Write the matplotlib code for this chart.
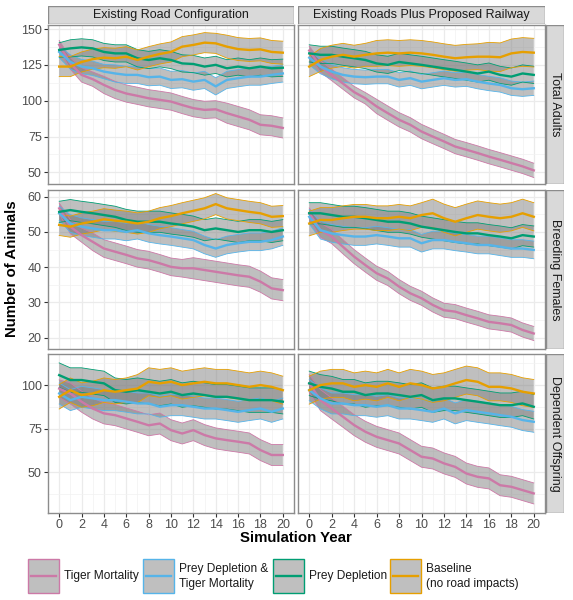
import matplotlib.pyplot as plt
from matplotlib.patches import Rectangle
from matplotlib.lines import Line2D

plt.rcParams['font.family'] = ['Liberation Sans', 'DejaVu Sans']

years = list(range(0, 21))

scenarios = ["Tiger Mortality", "Prey Depletion &\nTiger Mortality",
             "Prey Depletion", "Baseline\n(no road impacts)"]
colors = ["#CC79A7", "#56B4E9", "#009E73", "#E69F00"]
col_titles = ["Existing Road Configuration", "Existing Roads Plus Proposed Railway"]
row_titles = ["Total Adults", "Breeding Females", "Dependent Offspring"]

# ---- Total adults, existing roads
adults_road_tiger = [139, 126, 118, 115, 111, 107.5, 105, 103.4, 101.7, 100.6, 99.4,
                     97, 94.8, 93.6, 94, 91.3, 89, 86.7, 83.2, 82.5, 81]
adults_road_both = [134, 127, 123.8, 122.6, 120.3, 119, 118, 118, 116.4, 116.8, 114.5,
                    115, 113.3, 114.5, 110, 114.5, 115.7, 116.8, 116.8, 118, 119]
adults_road_prey = [135.4, 136.5, 137.2, 136.5, 134, 133, 133, 129.6, 128.4, 129.6, 128.4,
                    126, 125.6, 123.8, 125, 122.6, 123.8, 122.6, 123.8, 122.6, 123]
adults_road_base = [123.8, 123.8, 127, 129, 130, 129.6, 130.7, 128.4, 130.7, 132.6, 134,
                    137.7, 138.9, 140.5, 140, 137.7, 136, 135.4, 135.8, 134, 133.5]
adults_road_tiger_sd = [3, 4, 5, 5, 6, 6, 6, 6, 6, 6, 6, 6, 6, 6, 6, 7, 7, 7, 7, 7, 7]
adults_road_both_sd = [4, 5, 5, 5, 5, 6, 6, 6, 6, 6, 6, 6, 6, 6, 6, 6, 6, 6, 6, 6, 6]
adults_road_prey_sd = [5, 6, 6, 6, 6, 6, 6, 6, 6, 6, 6, 6, 6, 6, 6, 6, 6, 6, 6, 6, 6]
adults_road_base_sd = [7, 7, 7, 7, 7, 7, 7, 7, 7, 7, 7, 7, 7, 7, 7, 8, 8, 8, 8, 8, 8]

# ---- Total adults, roads + railway
adults_rail_tiger = [135, 123.8, 118, 112, 106, 101.7, 96, 91.3, 86.7, 83.2, 78.5,
                     75, 71.6, 68, 65.8, 63.5, 61, 58.8, 56.5, 54.2, 51.4]
adults_rail_both = [130, 123.8, 120.3, 118, 116.8, 116.4, 116.8, 116.8, 114.5, 115.7, 113.3,
                    114.5, 115.7, 114.5, 115, 113.3, 112, 111, 108.7, 108, 108.7]
adults_rail_prey = [133, 132, 132, 130.7, 129.6, 128.4, 126, 125, 127, 126, 125,
                    123.8, 122.6, 121.5, 120.3, 119, 120.3, 118, 116.8, 119, 118]
adults_rail_base = [123.8, 128.4, 130.7, 132, 130.7, 132, 133, 133.5, 133, 133.5, 133,
                    132, 130.7, 129.6, 130.3, 130.7, 130.7, 130.3, 133, 134, 133.5]
adults_rail_tiger_sd = [3, 4, 4, 4, 4, 4, 5, 5, 5, 5, 5, 5, 5, 5, 5, 5, 5, 5, 5, 5, 5]
adults_rail_both_sd = [5, 5, 5, 5, 5, 5, 5, 5, 5, 5, 5, 5, 5, 5, 5, 5, 5, 5, 5, 5, 5]
adults_rail_prey_sd = [6, 6, 6, 6, 6, 6, 6, 6, 6, 6, 6, 6, 6, 6, 6, 6, 6, 6, 6, 6, 6]
adults_rail_base_sd = [7, 8, 8, 8, 8, 8, 9, 9, 9, 9, 9, 9, 9, 9, 9, 9, 10, 10, 10, 10, 10]

# ---- Breeding females, existing roads
females_road_tiger = [56.7, 51.5, 49.1, 47.2, 45.3, 44.4, 43.5, 42.5, 42, 41.1, 40.1,
                      39.7, 39.7, 39.2, 38.7, 38.2, 37.7, 37.3, 35.9, 34, 33.5]
females_road_both = [55.3, 52.4, 51.5, 51, 50.5, 50.5, 50, 50.5, 49.6, 49.1, 48.7,
                     48.2, 47.7, 46.3, 45.3, 46.3, 46.8, 47.2, 47.2, 47.7, 48.7]
females_road_prey = [55.7, 56.2, 55.7, 55.3, 54.8, 54.3, 53.4, 52.9, 52.9, 52.9, 52.4,
                     52, 51.5, 50.5, 51, 50.5, 50, 50.5, 50.5, 50, 50.5]
females_road_base = [52, 51.5, 52.4, 52.9, 53.6, 53.2, 52.9, 52.4, 52.9, 53.9, 54.5,
                     55.3, 56, 56.7, 57.9, 56.7, 56.2, 55.7, 55.3, 54.3, 54.5]
females_road_tiger_sd = [1.5, 2, 2, 2.5, 2.5, 2.5, 2.5, 2.5, 2.5, 2.5, 2.5,
                         2.5, 3, 3, 3, 3, 3, 3, 3, 3, 3]
females_road_both_sd = [2, 2.5, 2.5, 2.5, 2.5, 2.5, 2.5, 2.5, 2.5, 2.5, 2.5,
                        2.5, 2.5, 2.5, 2.5, 2.5, 2.5, 2.5, 2.5, 2.5, 2.5]
females_road_prey_sd = [3, 3, 3, 3, 3, 3, 3, 3, 3, 3, 3, 3, 3, 3, 3, 3, 3, 3, 3, 3, 3]
females_road_base_sd = [3, 3, 3, 3, 3, 3, 3, 3, 3, 3, 3, 3, 3, 3, 3, 3, 3, 3, 3, 3, 3]

# ---- Breeding females, roads + railway
females_rail_tiger = [55.3, 50.5, 48.7, 45.8, 43, 40.6, 38.3, 36.8, 34.5, 32.6, 31.2,
                      29.3, 27.8, 27.4, 26.4, 25.5, 24.5, 24.1, 23.6, 22.2, 21.2]
females_rail_both = [54.3, 50.5, 49.6, 49.1, 48.7, 48.7, 49.1, 48.7, 48.2, 48.2, 46.8,
                     47.7, 47.7, 47.2, 46.8, 46.3, 46.3, 45.8, 45.3, 45.3, 44.9]
females_rail_prey = [55.3, 55.3, 54.8, 54.3, 54.3, 53.9, 53.4, 52.9, 52.9, 52.4, 51.5,
                     51, 50.5, 50, 49.6, 49.6, 49.1, 48.7, 48.2, 49.1, 48.7]
females_rail_base = [52.4, 53.4, 53.4, 53.9, 54.3, 54.3, 53.9, 53.9, 54.3, 53.9, 54.8,
                     55.3, 53.9, 52.9, 53.9, 54.8, 54.3, 53.9, 54.3, 55.3, 54.3]
females_rail_tiger_sd = [1.5, 2, 2, 2, 2, 2, 2, 2, 2, 2, 2, 2, 2, 2, 2, 2, 2, 2, 2, 2, 2]
females_rail_both_sd = [2, 2.5, 2.5, 2.5, 2.5, 2.5, 2.5, 2.5, 2.5, 2.5, 2.5,
                        2.5, 2.5, 2.5, 2.5, 2.5, 2.5, 2.5, 2.5, 2.5, 2.5]
females_rail_prey_sd = [3, 3, 3, 3, 3, 3, 3, 3, 3, 3, 3, 3, 3, 3, 3, 3, 3, 3, 3, 3, 3]
females_rail_base_sd = [3.5, 3.5, 3.5, 3.5, 3.5, 3.5, 3.5, 3.5, 3.5, 3.5, 3.5,
                        4, 4, 4, 4, 4, 4, 4, 4, 4, 4]

# ---- Dependent offspring, existing roads
young_road_tiger = [98, 95.2, 90.5, 86.6, 83.8, 82.8, 80.9, 79, 77, 78, 74.2,
                    72.3, 74.2, 71.4, 69.5, 68.5, 67.6, 66.6, 62.8, 60, 60]
young_road_both = [95.2, 91.4, 93.3, 92.4, 91.4, 91.4, 90.5, 89.5, 89.5, 87.6, 88.5,
                   88.5, 87.6, 86.6, 86.6, 85.7, 84.7, 85.7, 86.6, 84.7, 86.6]
young_road_prey = [105.7, 102.9, 102.9, 101.9, 101, 97.1, 96.2, 97.1, 96.2, 95.2, 96.2,
                   94.3, 95.2, 94.3, 93.3, 93.3, 92.4, 91.4, 91.4, 91.4, 90.5]
young_road_base = [93.3, 97.1, 94.3, 95.2, 97.1, 96.2, 97.1, 98, 101.9, 101, 101.9,
                   100, 101, 101.9, 101, 101, 100, 99, 100, 99, 97.1]
young_road_tiger_sd = [5, 6, 6, 6, 6, 6, 6, 6, 6, 6, 6, 6, 6, 6, 6, 6, 6, 6, 6, 6, 6]
young_road_both_sd = [6, 6, 6, 6, 6, 6, 6, 6, 6, 6, 6, 6, 6, 6, 6, 6, 6, 6, 6, 6, 6]
young_road_prey_sd = [7, 7, 7, 7, 7, 7, 7, 7, 7, 7, 7, 7, 7, 7, 7, 7, 7, 7, 7, 7, 7]
young_road_base_sd = [7, 7, 7, 7, 7, 7, 7, 8, 8, 8, 8, 8, 8, 8, 8, 8, 8, 8, 8, 8, 8]

# ---- Dependent offspring, roads + railway
young_rail_tiger = [101, 91.4, 86.6, 81.9, 77.1, 73.3, 70.4, 68.5, 66.6, 62.8, 59,
                    58, 55.2, 53.2, 49.4, 47.5, 46.6, 42.7, 41.8, 39.9, 38]
young_rail_both = [97.1, 92.4, 89.5, 89.5, 88.5, 88.5, 87.6, 88.5, 86.6, 86.6, 85.7,
                   84.7, 86.6, 83.8, 85.7, 84.7, 83.8, 82.8, 81.9, 80, 79]
young_rail_prey = [101, 99, 98, 96.2, 96.2, 94.3, 95.2, 95.2, 94.3, 93.3, 94.3,
                   91.4, 92.4, 92.4, 91.4, 90.5, 89.5, 88.5, 88.5, 89.5, 87.6]
young_rail_base = [97.1, 100, 101, 101, 99, 100, 99, 101, 99, 101, 100,
                   98.1, 99, 101, 102.9, 101.9, 99, 99, 98.1, 96.2, 95.2]
young_rail_tiger_sd = [5, 6, 6, 6, 6, 6, 6, 6, 6, 6, 6, 6, 6, 6, 6, 6, 6, 6, 6, 6, 6]
young_rail_both_sd = [6, 6, 6, 6, 6, 6, 6, 6, 6, 6, 6, 6, 6, 6, 6, 6, 6, 6, 6, 6, 6]
young_rail_prey_sd = [7, 7, 7, 7, 7, 7, 7, 7, 7, 7, 7, 7, 7, 7, 7, 7, 7, 7, 7, 7, 7]
young_rail_base_sd = [8, 8, 8, 8, 8, 8, 8, 8, 8, 8, 8, 8, 8, 8, 8, 8, 8, 8, 8, 8, 8]

panels = {
    (0, 0): [(adults_road_tiger, adults_road_tiger_sd), (adults_road_both, adults_road_both_sd),
             (adults_road_prey, adults_road_prey_sd), (adults_road_base, adults_road_base_sd)],
    (0, 1): [(adults_rail_tiger, adults_rail_tiger_sd), (adults_rail_both, adults_rail_both_sd),
             (adults_rail_prey, adults_rail_prey_sd), (adults_rail_base, adults_rail_base_sd)],
    (1, 0): [(females_road_tiger, females_road_tiger_sd), (females_road_both, females_road_both_sd),
             (females_road_prey, females_road_prey_sd), (females_road_base, females_road_base_sd)],
    (1, 1): [(females_rail_tiger, females_rail_tiger_sd), (females_rail_both, females_rail_both_sd),
             (females_rail_prey, females_rail_prey_sd), (females_rail_base, females_rail_base_sd)],
    (2, 0): [(young_road_tiger, young_road_tiger_sd), (young_road_both, young_road_both_sd),
             (young_road_prey, young_road_prey_sd), (young_road_base, young_road_base_sd)],
    (2, 1): [(young_rail_tiger, young_rail_tiger_sd), (young_rail_both, young_rail_both_sd),
             (young_rail_prey, young_rail_prey_sd), (young_rail_base, young_rail_base_sd)],
}

ylims = [(41.9, 152.8), (16.8, 61.9), (26.8, 117.8)]
yticks = [[50, 75, 100, 125, 150], [20, 30, 40, 50, 60], [50, 75, 100]]
yminor = [[62.5, 87.5, 112.5, 137.5], [25, 35, 45, 55], [37.5, 62.5, 87.5, 112.5]]

W, H = 573, 600
fig = plt.figure(figsize=(W / 100, H / 100), dpi=100)


def px_axes(x0, y0, x1, y1):
    return fig.add_axes([x0 / W, 1 - y1 / H, (x1 - x0) / W, (y1 - y0) / H])


cols_x = [(48, 294), (298, 545)]
rows_y = [(25, 184), (190, 349), (354, 513)]
border = "#8c8c8c"
ribbon_fill = (0.5, 0.5, 0.5, 0.5)

for r in range(3):
    for c in range(2):
        ax = px_axes(cols_x[c][0], rows_y[r][0], cols_x[c][1], rows_y[r][1])
        for (mean, sd), col in zip(panels[(r, c)], colors):
            lo = [m - s for m, s in zip(mean, sd)]
            hi = [m + s for m, s in zip(mean, sd)]
            ax.fill_between(years, lo, hi, facecolor=ribbon_fill, edgecolor="none", zorder=2)
            ax.plot(years, lo, color=col, lw=0.6, zorder=3)
            ax.plot(years, hi, color=col, lw=0.6, zorder=3)
        for (mean, sd), col in zip(panels[(r, c)], colors):
            ax.plot(years, mean, color=col, lw=1.7, zorder=4)

        ax.set_xlim(-1, 21)
        ax.set_ylim(*ylims[r])
        ax.set_xticks(range(0, 21, 2))
        ax.set_xticks(range(1, 21, 2), minor=True)
        ax.set_yticks(yticks[r])
        ax.set_yticks(yminor[r], minor=True)
        ax.grid(which="major", color="#EBEBEB", lw=0.9, zorder=0)
        ax.grid(which="minor", color="#F2F2F2", lw=0.5, zorder=0)
        ax.set_axisbelow(True)
        for sp in ax.spines.values():
            sp.set_color(border)
            sp.set_linewidth(1.0)
        ax.tick_params(which="minor", length=0)
        ax.tick_params(which="major", length=3, width=0.8, color="#333333",
                       labelsize=9, labelcolor="#4D4D4D", pad=1.5)
        if c != 0:
            ax.tick_params(axis="y", which="major", length=0, labelleft=False)
        if r != 2:
            ax.tick_params(axis="x", which="major", length=0, labelbottom=False)

        # facet strips
        if r == 0:
            sax = px_axes(cols_x[c][0], 6, cols_x[c][1], 24)
            sax.add_patch(Rectangle((0, 0), 1, 1, transform=sax.transAxes,
                                    facecolor="#D9D9D9", edgecolor=border, lw=1.0))
            sax.text(0.5, 0.5, col_titles[c], ha="center", va="center",
                     fontsize=9, color="#1A1A1A")
            sax.axis("off")
        if c == 1:
            sax = px_axes(546, rows_y[r][0], 564, rows_y[r][1])
            sax.add_patch(Rectangle((0, 0), 1, 1, transform=sax.transAxes,
                                    facecolor="#D9D9D9", edgecolor=border, lw=1.0))
            sax.text(0.5, 0.5, row_titles[r], ha="center", va="center",
                     fontsize=9, color="#1A1A1A", rotation=-90)
            sax.axis("off")

fig.text(12 / W, 1 - 269 / H, "Number of Animals", rotation=90, ha="center",
         va="center", fontsize=10.8, fontweight="bold")
fig.text(296 / W, 1 - 538 / H, "Simulation Year", ha="center", va="center",
         fontsize=10.8, fontweight="bold")

# legend drawn by hand: grey boxes with coloured border and a line through
lax = px_axes(0, 540, W, 600)
lax.set_xlim(0, W)
lax.set_ylim(600, 540)
lax.axis("off")
key_x = [28, 143, 273, 390]
for kx, lab, col in zip(key_x, scenarios, colors):
    lax.add_patch(Rectangle((kx, 559), 31, 34, facecolor=ribbon_fill, edgecolor=col, lw=1.0))
    lax.add_line(Line2D([kx + 3, kx + 28], [576, 576], color=col, lw=1.7))
    lax.text(kx + 36, 576.5, lab, ha="left", va="center", fontsize=8.6,
             color="#1A1A1A", linespacing=1.25)

fig.savefig("out.png", dpi=100)
